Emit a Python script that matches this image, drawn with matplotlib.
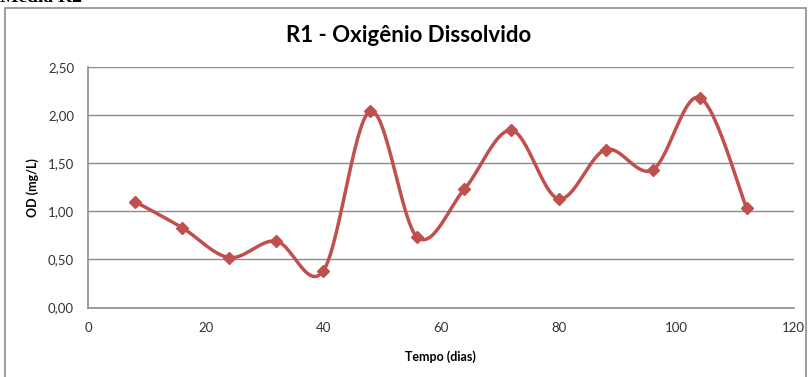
import numpy as np
import matplotlib.pyplot as plt
from matplotlib.patches import Rectangle

# dados
tempo = [8, 16, 24, 32, 40, 48, 56, 64, 72, 80, 88, 96, 104, 112]
od = [1.10, 0.83, 0.52, 0.69, 0.38, 2.04, 0.73, 1.23, 1.84, 1.13, 1.64, 1.43, 2.18, 1.03]
yticks = [0.0, 0.5, 1.0, 1.5, 2.0, 2.5]
xticks = [0, 20, 40, 60, 80, 100, 120]

cor = '#C0504D'
plt.rcParams['font.family'] = ['Lato', 'DejaVu Sans']


# curva suave estilo Excel (Catmull-Rom / Bezier)
def suavizar(x, y, n=30):
    x = np.asarray(x, float)
    y = np.asarray(y, float)
    px = np.concatenate([[x[0]], x, [x[-1]]])
    py = np.concatenate([[y[0]], y, [y[-1]]])
    xs, ys = [], []
    t = np.linspace(0, 1, n)
    for i in range(1, len(px) - 2):
        p0 = np.array([px[i], py[i]])
        p3 = np.array([px[i + 1], py[i + 1]])
        p1 = p0 + (np.array([px[i + 1], py[i + 1]]) - np.array([px[i - 1], py[i - 1]])) / 6
        p2 = p3 - (np.array([px[i + 2], py[i + 2]]) - np.array([px[i], py[i]])) / 6
        b = ((1 - t) ** 3)[:, None] * p0 + (3 * (1 - t) ** 2 * t)[:, None] * p1 \
            + (3 * (1 - t) * t ** 2)[:, None] * p2 + (t ** 3)[:, None] * p3
        xs.extend(b[:, 0])
        ys.extend(b[:, 1])
    return xs, ys


fig = plt.figure(figsize=(8.1, 3.77), dpi=100)
ax = fig.add_axes([0.1086, 0.184, 0.8714, 0.639])

# moldura do grafico
fig.patches.append(Rectangle((5 / 810, -0.1), 801 / 810, 1 - 8 / 377 + 0.1,
                             transform=fig.transFigure, fill=False,
                             edgecolor='#8c8c8c', linewidth=1.2))
# texto cortado no topo da imagem original
fig.text(0.0, 1 - 2 / 377, 'Média R2', fontsize=14, fontweight='bold',
         family='Liberation Serif', va='baseline', ha='left')

sx, sy = suavizar(tempo, od)
ax.plot(sx, sy, color=cor, linewidth=2.5, solid_capstyle='round', zorder=3)
ax.plot(tempo, od, linestyle='none', marker='D', markersize=6,
        color=cor, zorder=4)

ax.set_xlim(0, 120)
ax.set_ylim(0, 2.5)
ax.set_xticks(xticks)
ax.set_yticks(yticks)
ax.set_yticklabels([('%.2f' % v).replace('.', ',') for v in yticks])
ax.tick_params(length=0, labelsize=9.5, labelcolor='#333333', pad=10)
ax.yaxis.grid(True, color='#8c8c8c', linewidth=1)
ax.set_axisbelow(True)
for s in ['top', 'right']:
    ax.spines[s].set_visible(False)
for s in ['left', 'bottom']:
    ax.spines[s].set_color('#8c8c8c')
    ax.spines[s].set_linewidth(1.2)

fig.text(409 / 810, 1 - 35 / 377, 'R1 - Oxigênio Dissolvido', fontsize=16,
         fontweight='bold', ha='center', va='center')
ax.set_xlabel('Tempo (dias)', fontsize=9, fontweight='bold', labelpad=12)
ax.set_ylabel('OD (mg/L)', fontsize=9, fontweight='bold', labelpad=6)

fig.savefig('out.png', dpi=100)
